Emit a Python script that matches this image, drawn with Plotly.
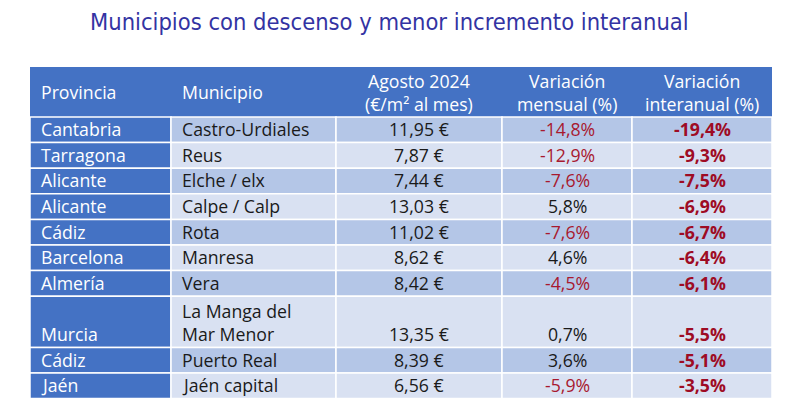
import textwrap
import plotly.graph_objects as go

# ---------------- data ----------------
title = "Municipios con descenso y menor incremento interanual"
headers = ["Provincia", "Municipio", "Agosto 2024<br>(€/m² al mes)",
           "Variación<br>mensual (%)", "Variación<br>interanual (%)"]
provincias = ["Cantabria", "Tarragona", "Alicante", "Alicante", "Cádiz",
              "Barcelona", "Almería", "Murcia", "Cádiz", "Jaén"]
municipios = ["Castro-Urdiales", "Reus", "Elche / elx", "Calpe / Calp", "Rota",
              "Manresa", "Vera", "La Manga del Mar Menor", "Puerto Real", "Jaén capital"]
precio_eur_m2 = [11.95, 7.87, 7.44, 13.03, 11.02, 8.62, 8.42, 13.35, 8.39, 6.56]
var_mensual = [-14.8, -12.9, -7.6, 5.8, -7.6, 4.6, -4.5, 0.7, 3.6, -5.9]
var_interanual = [-19.4, -9.3, -7.5, -6.9, -6.7, -6.4, -6.1, -5.5, -5.1, -3.5]

# ---------------- styling / layout ----------------
W, H = 794, 420
OFF = 8  # page body margin
col_edges = [30, 171, 336, 502, 632, 772]
header_top, header_bot = 67, 117
row_h = 25.6
pad_left = 9
BLUE = "#4472C4"
DARK = "#B4C6E7"
LIGHT = "#D9E1F2"
TXT = "#1A1A1A"
RED_M = "#A8192F"
RED_I = "#9E0B24"
FONT = "Open Sans"
FS = 17.7


def fmt_num(v, dec):
    return f"{v:.{dec}f}".replace(".", ",")


fig = go.Figure()
shapes = []
annotations = []

# title
annotations.append(dict(x=88, y=22, xref="x", yref="y", text=title, showarrow=False,
                        xanchor="left", yanchor="middle",
                        font=dict(family="Liberation Sans Narrow, DejaVu Sans Condensed, sans-serif",
                                  size=23.5, color="#3333A3")))

# header band
shapes.append(dict(type="rect", xref="x", yref="y", x0=col_edges[0], x1=col_edges[-1],
                   y0=header_top, y1=header_bot, fillcolor=BLUE, line=dict(width=0), layer="below"))
hmid = (header_top + header_bot) / 2
for j, htxt in enumerate(headers):
    if j < 2:
        x, xa = col_edges[j] + pad_left, "left"
    else:
        x, xa = (col_edges[j] + col_edges[j + 1]) / 2, "center"
    annotations.append(dict(x=x, y=hmid, xref="x", yref="y", text=htxt, showarrow=False,
                            xanchor=xa, yanchor="middle", align="center",
                            font=dict(family=FONT, size=FS, color="white")))

# body rows
y = header_bot
for i in range(len(provincias)):
    mun_lines = textwrap.wrap(municipios[i], width=15)
    units = len(mun_lines)
    top, bot = y, y + units * row_h
    fill = DARK if i % 2 == 0 else LIGHT
    m = var_mensual[i]
    cells = [
        (provincias[i], "white"),
        ("<br>".join(mun_lines), TXT),
        (fmt_num(precio_eur_m2[i], 2) + " €", TXT),
        (fmt_num(m, 1) + "%", RED_M if m < 0 else TXT),
        ("<b>" + fmt_num(var_interanual[i], 1) + "%</b>", RED_I),
    ]
    for j, (txt, color) in enumerate(cells):
        shapes.append(dict(type="rect", xref="x", yref="y", x0=col_edges[j], x1=col_edges[j + 1],
                           y0=top, y1=bot, fillcolor=BLUE if j == 0 else fill,
                           line=dict(color="white", width=1.5), layer="below"))
        if j < 2:
            x, xa = col_edges[j] + pad_left, "left"
        else:
            x, xa = (col_edges[j] + col_edges[j + 1]) / 2, "center"
        annotations.append(dict(x=x, y=bot + 0.5, xref="x", yref="y", text=txt, showarrow=False,
                                xanchor=xa, yanchor="bottom", align="left",
                                font=dict(family=FONT, size=FS, color=color)))
    y = bot

fig.update_layout(
    width=W - OFF, height=H - OFF,
    margin=dict(l=0, r=0, t=0, b=0),
    paper_bgcolor="white", plot_bgcolor="white",
    xaxis=dict(range=[OFF, W], visible=False, fixedrange=True),
    yaxis=dict(range=[H, OFF], visible=False, fixedrange=True),
    shapes=shapes, annotations=annotations, showlegend=False,
)

fig.write_html("out.html")
